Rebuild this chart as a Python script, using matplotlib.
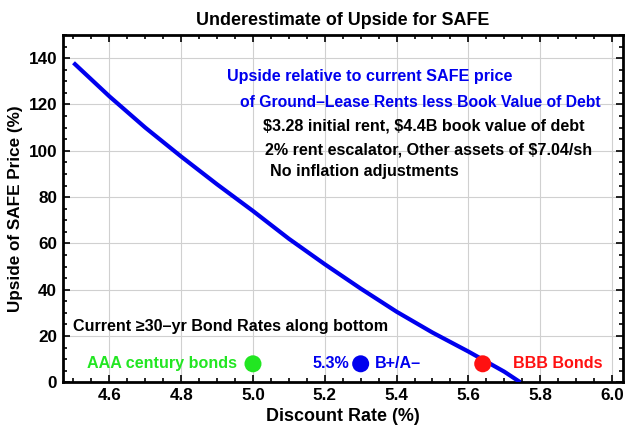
import matplotlib
matplotlib.use("Agg")
import matplotlib.pyplot as plt
from matplotlib.ticker import MultipleLocator

plt.rcParams['font.family'] = ['Liberation Sans', 'DejaVu Sans']
plt.rcParams['font.weight'] = 'bold'

# data
rate = [4.50, 4.60, 4.70, 4.80, 4.90, 5.00, 5.10, 5.20, 5.30, 5.40, 5.50, 5.60, 5.70, 5.745]
upside = [138, 123.5, 110, 97.5, 85.5, 74, 62, 51, 40.5, 30.5, 21.5, 13.3, 4.6, 0]

bond_rates = [5.00, 5.30, 5.64]
bond_level = [8, 8, 8]
bond_colors = ['#22e622', '#0000ee', '#ff1111']

fig = plt.figure(figsize=(6.4, 4.32), dpi=100)
ax = fig.add_axes([0.098, 0.115, 0.875, 0.804])

ax.plot(rate, upside, color='#0000ee', lw=3.0, solid_capstyle='butt', zorder=3)
ax.scatter(bond_rates, bond_level, s=150, c=bond_colors, zorder=4, edgecolors='none')

ax.set_xlim(4.47, 6.03)
ax.set_ylim(0, 150)
ax.xaxis.set_major_locator(MultipleLocator(0.2))
ax.xaxis.set_minor_locator(MultipleLocator(0.05))
ax.yaxis.set_major_locator(MultipleLocator(20))
ax.yaxis.set_minor_locator(MultipleLocator(5))
ax.set_xticks([4.6, 4.8, 5.0, 5.2, 5.4, 5.6, 5.8, 6.0])
ax.set_xticklabels(['4.6', '4.8', '5.0', '5.2', '5.4', '5.6', '5.8', '6.0'])
ax.grid(True, which='major', color='#d0d0d0', lw=0.8)
ax.set_axisbelow(True)
ax.tick_params(which='both', direction='in', top=True, right=True, width=1.2)
ax.tick_params(which='major', length=5, labelsize=12.3, pad=4)
ax.tick_params(which='minor', length=3)
for lab in ax.get_xticklabels() + ax.get_yticklabels():
    lab.set_fontweight('bold')
for s in ax.spines.values():
    s.set_linewidth(2)

ax.set_xlabel('Discount Rate (%)', fontsize=12.9, fontweight='bold', labelpad=4)
ax.set_ylabel('Upside of SAFE Price (%)', fontsize=12.3, fontweight='bold', labelpad=4)
ax.set_title('Underestimate of Upside for SAFE', fontsize=12.9, fontweight='bold', pad=7)

blue = '#0000ee'
ax.text(4.928, 132, 'Upside relative to current SAFE price', color=blue, fontsize=11.6, fontweight='bold', va='center')
ax.text(4.964, 121, 'of Ground\u2013Lease Rents less Book Value of Debt', color=blue, fontsize=11.3, fontweight='bold', va='center')
ax.text(5.028, 110.5, '\\$3.28 initial rent, \\$4.4B book value of debt', color='black', fontsize=11.6, fontweight='bold', va='center')
ax.text(5.033, 100.5, '2% rent escalator, Other assets of \\$7.04/sh', color='black', fontsize=11.6, fontweight='bold', va='center')
ax.text(5.047, 91, 'No inflation adjustments', color='black', fontsize=11.6, fontweight='bold', va='center')
ax.text(4.50, 24, 'Current \u226530\u2013yr Bond Rates along bottom', color='black', fontsize=11.6, fontweight='bold', va='center')
ax.text(4.955, 8, 'AAA century bonds', color='#22e622', fontsize=11.6, fontweight='bold', va='center', ha='right')
ax.text(5.268, 8, '5.3%', color=blue, fontsize=11.6, fontweight='bold', va='center', ha='right')
ax.text(5.34, 8, 'B+/A\u2013', color=blue, fontsize=11.6, fontweight='bold', va='center', ha='left')
ax.text(5.725, 8, 'BBB Bonds', color='#ff1111', fontsize=11.6, fontweight='bold', va='center', ha='left')

fig.savefig('out.png', dpi=100)
